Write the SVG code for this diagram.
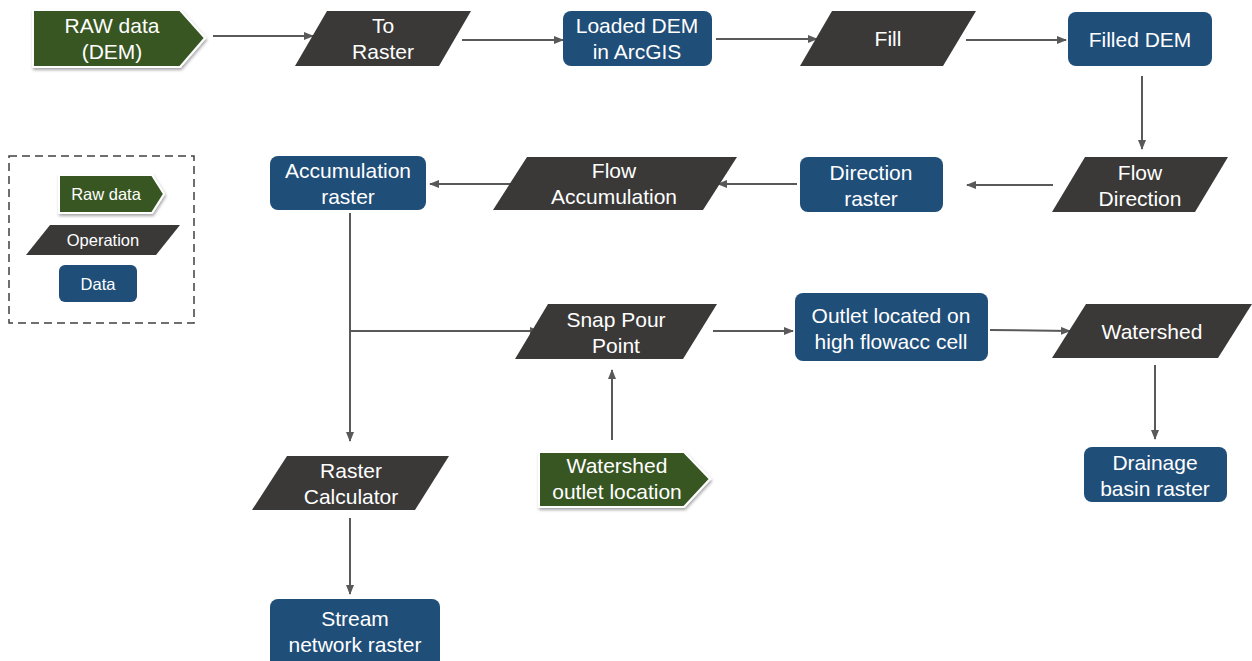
<svg xmlns="http://www.w3.org/2000/svg" width="1252" height="661" viewBox="0 0 1252 661">
<defs>
<marker id="ah" markerWidth="10" markerHeight="8" refX="9" refY="4" orient="auto" markerUnits="userSpaceOnUse">
<path d="M0,0 L10,4 L0,8 z" fill="#595959"/>
</marker>
<filter id="sh" x="-10%" y="-10%" width="130%" height="140%">
<feDropShadow dx="1" dy="2" stdDeviation="1.5" flood-color="#000" flood-opacity="0.35"/>
</filter>
</defs>
<style>
text{font-family:"Liberation Sans",Arial,sans-serif;fill:#fff;text-anchor:middle;font-size:21px}
.raw{fill:#385723;stroke:#fff;stroke-width:2;filter:url(#sh)}
.op{fill:#3a3938}
.data{fill:#1f4e79}
.c line,.c polyline{stroke:#595959;stroke-width:2;fill:none}
.lg{font-size:16.5px}
</style>
<rect width="1252" height="661" fill="#fff"/>

<g class="c">
<line x1="213" y1="36" x2="313" y2="36" marker-end="url(#ah)"/>
<line x1="462" y1="40" x2="563" y2="40" marker-end="url(#ah)"/>
<line x1="716" y1="39" x2="817" y2="39" marker-end="url(#ah)"/>
<line x1="966" y1="40" x2="1066" y2="40" marker-end="url(#ah)"/>
<line x1="1142" y1="76" x2="1142" y2="149" marker-end="url(#ah)"/>
<line x1="1053" y1="185" x2="967" y2="185" marker-end="url(#ah)"/>
<line x1="797" y1="184" x2="718" y2="184" marker-end="url(#ah)"/>
<line x1="517" y1="184" x2="430" y2="184" marker-end="url(#ah)"/>
<line x1="350" y1="213" x2="350" y2="441" marker-end="url(#ah)"/>
<line x1="350" y1="331" x2="539" y2="331" marker-end="url(#ah)"/>
<line x1="713" y1="331" x2="793" y2="331" marker-end="url(#ah)"/>
<line x1="990" y1="330" x2="1070" y2="331" marker-end="url(#ah)"/>
<line x1="1155" y1="365" x2="1155" y2="439" marker-end="url(#ah)"/>
<line x1="612" y1="440" x2="612" y2="370" marker-end="url(#ah)"/>
<line x1="350" y1="518" x2="350" y2="594" marker-end="url(#ah)"/>
</g>

<g id="raw-dem">
<path class="raw" d="M33,10 H180 L205,38 L180,67 H33 Z"/>
<text x="112" y="33">RAW data</text>
<text x="112" y="59">(DEM)</text>
</g>
<g id="to-raster">
<path class="op" d="M327,11 H471 L439,66 H295 Z"/>
<text x="383" y="33">To</text>
<text x="383" y="59">Raster</text>
</g>
<g id="loaded-dem">
<rect class="data" x="563" y="11" width="149" height="55" rx="8"/>
<text x="637" y="33">Loaded DEM</text>
<text x="637" y="59">in ArcGIS</text>
</g>
<g id="fill">
<path class="op" d="M832,11 H976 L943,66 H800 Z"/>
<text x="888" y="46">Fill</text>
</g>
<g id="filled-dem">
<rect class="data" x="1068" y="12" width="144" height="54" rx="8"/>
<text x="1140" y="47">Filled DEM</text>
</g>
<g id="flow-direction">
<path class="op" d="M1085,157 H1228 L1195,212 H1052 Z"/>
<text x="1140" y="180">Flow</text>
<text x="1140" y="206">Direction</text>
</g>
<g id="direction-raster">
<rect class="data" x="800" y="157" width="143" height="55" rx="8"/>
<text x="871" y="180">Direction</text>
<text x="871" y="206">raster</text>
</g>
<g id="flow-accumulation">
<path class="op" d="M527,157 H737 L703,210 H493 Z"/>
<text x="614" y="178">Flow</text>
<text x="614" y="204">Accumulation</text>
</g>
<g id="accumulation-raster">
<rect class="data" x="270" y="156" width="156" height="54" rx="8"/>
<text x="348" y="178">Accumulation</text>
<text x="348" y="204">raster</text>
</g>
<g id="snap-pour-point">
<path class="op" d="M548,304 H717 L683,359 H515 Z"/>
<text x="616" y="327">Snap Pour</text>
<text x="616" y="353">Point</text>
</g>
<g id="outlet">
<rect class="data" x="795" y="293" width="193" height="68" rx="8"/>
<text x="891" y="323">Outlet located on</text>
<text x="891" y="349">high flowacc cell</text>
</g>
<g id="watershed">
<path class="op" d="M1086,304 H1252 L1218,358 H1052 Z"/>
<text x="1152" y="339">Watershed</text>
</g>
<g id="drainage-basin">
<rect class="data" x="1084" y="447" width="143" height="55" rx="8"/>
<text x="1155" y="470">Drainage</text>
<text x="1155" y="496">basin raster</text>
</g>
<g id="watershed-outlet">
<path class="raw" d="M539,452 H684 L710,479 L684,507 H539 Z"/>
<text x="617" y="473">Watershed</text>
<text x="617" y="499">outlet location</text>
</g>
<g id="raster-calculator">
<path class="op" d="M287,456 H449 L415,510 H252 Z"/>
<text x="351" y="478">Raster</text>
<text x="351" y="504">Calculator</text>
</g>
<g id="stream-network">
<rect class="data" x="270" y="599" width="170" height="70" rx="8"/>
<text x="355" y="626">Stream</text>
<text x="355" y="652">network raster</text>
</g>

<g id="legend">
<rect x="9" y="156" width="185" height="167" fill="none" stroke="#404040" stroke-width="1.5" stroke-dasharray="8,5"/>
<path class="raw" d="M59,175 H152 L164,194 L152,213 H59 Z"/>
<text class="lg" x="106" y="200">Raw data</text>
<path class="op" d="M50,225 H180 L156,255 H26 Z"/>
<text class="lg" x="103" y="246">Operation</text>
<rect class="data" x="59" y="265" width="78" height="37" rx="6"/>
<text class="lg" x="98" y="290">Data</text>
</g>
</svg>
